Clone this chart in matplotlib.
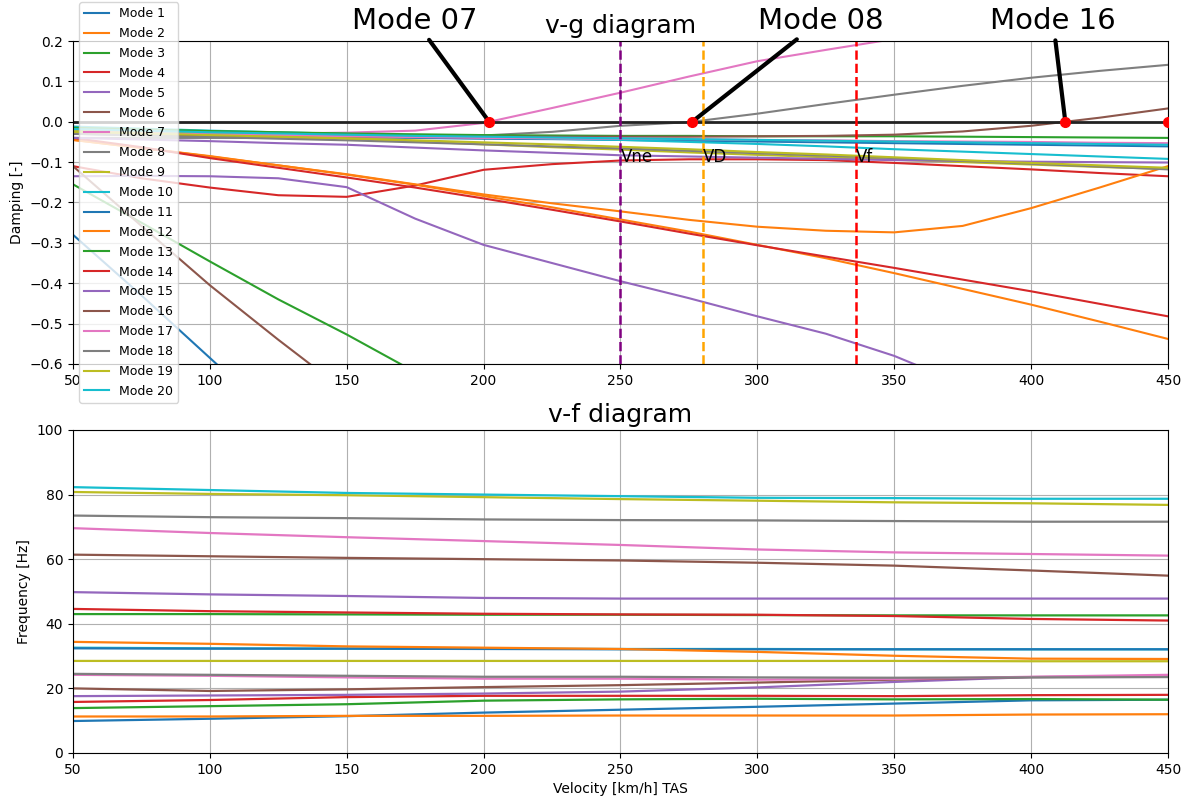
import numpy as np
import matplotlib
matplotlib.use('Agg')
import matplotlib.pyplot as plt

# velocity grids [km/h TAS]
v_damp = np.arange(50, 451, 25)
v_freq = np.arange(50, 451, 50)

# damping per mode, read at v_damp
g1 = [-0.030, -0.032, -0.034, -0.036, -0.038, -0.040, -0.042, -0.043, -0.045, -0.047, -0.049, -0.051, -0.053, -0.055, -0.057, -0.059, -0.061]
g2 = [-0.045, -0.065, -0.086, -0.108, -0.131, -0.156, -0.184, -0.212, -0.242, -0.272, -0.305, -0.338, -0.375, -0.414, -0.453, -0.495, -0.538]
g3 = [-0.155, -0.250, -0.346, -0.440, -0.527, -0.620, -0.710, -0.800, -0.890, -0.970, -1.050, -1.130, -1.200, -1.270, -1.340, -1.400, -1.460]
g4 = [-0.110, -0.140, -0.163, -0.182, -0.186, -0.158, -0.119, -0.105, -0.096, -0.093, -0.093, -0.095, -0.102, -0.110, -0.118, -0.127, -0.135]
g5 = [-0.135, -0.134, -0.135, -0.140, -0.162, -0.240, -0.305, -0.350, -0.395, -0.437, -0.482, -0.525, -0.580, -0.650, -0.720, -0.800, -0.880]
g6 = [-0.110, -0.258, -0.405, -0.540, -0.670, -0.800, -0.930, -1.050, -1.170, -1.280, -1.390, -1.500, -1.600, -1.700, -1.800, -1.900, -2.000]
g7 = [-0.030, -0.030, -0.030, -0.029, -0.027, -0.022, -0.003, 0.034, 0.072, 0.112, 0.150, 0.178, 0.205, 0.232, 0.258, 0.283, 0.307]
g8 = [-0.040, -0.040, -0.040, -0.040, -0.040, -0.038, -0.034, -0.025, -0.010, -0.001, 0.020, 0.044, 0.067, 0.089, 0.109, 0.126, 0.141]
g9 = [-0.020, -0.025, -0.030, -0.036, -0.042, -0.049, -0.056, -0.063, -0.069, -0.076, -0.082, -0.088, -0.094, -0.100, -0.106, -0.112, -0.117]
g10 = [-0.012, -0.017, -0.022, -0.026, -0.030, -0.034, -0.038, -0.042, -0.045, -0.050, -0.055, -0.061, -0.068, -0.074, -0.080, -0.086, -0.092]
g11 = [-0.280, -0.430, -0.585, -0.740, -0.890, -1.030, -1.170, -1.300, -1.430, -1.550, -1.670, -1.780, -1.890, -2.000, -2.100, -2.200, -2.300]
g12 = [-0.045, -0.065, -0.085, -0.108, -0.130, -0.155, -0.180, -0.202, -0.222, -0.243, -0.260, -0.270, -0.274, -0.258, -0.214, -0.163, -0.110]
g13 = [-0.015, -0.019, -0.023, -0.026, -0.029, -0.031, -0.033, -0.034, -0.035, -0.035, -0.036, -0.036, -0.036, -0.037, -0.038, -0.039, -0.040]
g14 = [-0.040, -0.063, -0.090, -0.114, -0.138, -0.163, -0.190, -0.218, -0.247, -0.277, -0.306, -0.334, -0.362, -0.391, -0.420, -0.451, -0.482]
g15 = [-0.040, -0.044, -0.048, -0.053, -0.057, -0.064, -0.071, -0.077, -0.083, -0.086, -0.089, -0.092, -0.095, -0.097, -0.099, -0.100, -0.101]
g16 = [-0.030, -0.032, -0.034, -0.035, -0.036, -0.037, -0.037, -0.037, -0.037, -0.037, -0.036, -0.035, -0.032, -0.024, -0.010, 0.010, 0.033]
g17 = [-0.025, -0.028, -0.031, -0.034, -0.036, -0.038, -0.040, -0.041, -0.042, -0.043, -0.045, -0.046, -0.048, -0.049, -0.050, -0.052, -0.053]
g18 = [-0.030, -0.034, -0.038, -0.042, -0.046, -0.051, -0.056, -0.061, -0.066, -0.072, -0.078, -0.084, -0.090, -0.097, -0.104, -0.111, -0.118]
g19 = [-0.025, -0.029, -0.033, -0.037, -0.041, -0.046, -0.051, -0.056, -0.062, -0.068, -0.075, -0.081, -0.088, -0.095, -0.102, -0.108, -0.114]
g20 = [-0.018, -0.022, -0.026, -0.029, -0.032, -0.035, -0.037, -0.039, -0.041, -0.043, -0.045, -0.047, -0.049, -0.051, -0.053, -0.055, -0.057]

# frequency per mode [Hz], read at v_freq
f1 = [9.9, 10.6, 11.4, 12.5, 13.4, 14.3, 15.3, 16.3, 16.5]
f2 = [11.3, 11.3, 11.5, 11.5, 11.6, 11.6, 11.6, 11.9, 12.0]
f3 = [13.9, 14.5, 15.1, 16.2, 16.6, 16.8, 16.6, 16.7, 16.5]
f4 = [15.8, 16.4, 17.3, 17.7, 17.7, 17.7, 17.6, 17.9, 18.0]
f5 = [17.6, 17.8, 18.0, 18.4, 19.0, 20.3, 22.0, 23.5, 23.8]
f6 = [20.0, 19.2, 19.7, 20.4, 21.0, 21.8, 22.7, 23.5, 23.6]
f7 = [24.2, 23.9, 23.4, 23.0, 23.0, 22.7, 22.9, 23.6, 24.2]
f8 = [24.5, 24.2, 23.9, 23.6, 23.6, 23.4, 23.3, 23.4, 23.5]
f9 = [28.5, 28.5, 28.5, 28.5, 28.5, 28.5, 28.5, 28.4, 28.4]
f10 = [32.6, 32.4, 32.3, 32.3, 32.2, 32.2, 32.1, 32.1, 32.1]
f11 = [32.4, 32.3, 32.3, 32.2, 32.1, 32.1, 32.1, 32.1, 32.1]
f12 = [34.4, 33.8, 33.0, 32.6, 32.2, 31.3, 30.1, 29.2, 29.1]
f13 = [43.0, 43.0, 42.9, 42.8, 42.8, 42.7, 42.6, 42.6, 42.6]
f14 = [44.6, 43.9, 43.5, 43.1, 42.9, 42.8, 42.4, 41.5, 41.0]
f15 = [49.8, 49.1, 48.6, 48.0, 47.8, 47.8, 47.8, 47.8, 47.8]
f16 = [61.4, 60.9, 60.4, 60.0, 59.6, 58.9, 58.0, 56.5, 54.9]
f17 = [69.6, 68.1, 66.8, 65.6, 64.4, 63.0, 62.1, 61.6, 61.1]
f18 = [73.5, 73.0, 72.7, 72.3, 72.1, 72.0, 71.8, 71.6, 71.6]
f19 = [80.8, 80.2, 79.8, 79.2, 78.6, 78.1, 77.6, 77.3, 76.8]
f20 = [82.3, 81.4, 80.5, 80.0, 79.5, 79.0, 78.9, 78.7, 78.7]

damping = [g1, g2, g3, g4, g5, g6, g7, g8, g9, g10, g11, g12, g13, g14, g15, g16, g17, g18, g19, g20]
freq = [f1, f2, f3, f4, f5, f6, f7, f8, f9, f10, f11, f12, f13, f14, f15, f16, f17, f18, f19, f20]

# reference speeds
v_lines = [250, 280, 336]
v_names = ['Vne', 'VD', 'Vf']
v_colors = ['purple', 'orange', 'red']

# where the annotation text sits (velocity) for each flutter mode
label_x = {7: 175, 8: 323, 16: 408}

fig = plt.figure(figsize=(11.83, 7.98), dpi=100)
ax1 = fig.add_axes([0.0617, 0.5439, 0.9256, 0.4047])
ax2 = fig.add_axes([0.0617, 0.0564, 0.9256, 0.4048])

for i, g in enumerate(damping):
    ax1.plot(v_damp, g, lw=1.5, label='Mode %d' % (i + 1))
ax1.axhline(0, color='#222222', lw=2)

# zero crossings -> flutter points
crossings = []
for i, g in enumerate(damping):
    g = np.array(g)
    idx = np.where((g[:-1] < 0) & (g[1:] >= 0))[0]
    for k in idx:
        vc = np.interp(0, [g[k], g[k + 1]], [v_damp[k], v_damp[k + 1]])
        crossings.append((i + 1, vc))
xs = [c[1] for c in crossings] + [v_damp[-1]]
ax1.plot(xs, np.zeros(len(xs)), 'o', color='red', ms=7, zorder=5)

for mode, vc in crossings:
    ax1.annotate('Mode %02d' % mode, xy=(vc, 0), xytext=(label_x[mode], 0.25),
                 fontsize=21, ha='center', va='center', annotation_clip=False,
                 arrowprops=dict(arrowstyle='-', lw=3, color='black', shrinkB=0))

for v, name, c in zip(v_lines, v_names, v_colors):
    ax1.axvline(v, color=c, ls='--', lw=1.8)
    ax1.text(v, -0.087, name, fontsize=12, va='center', ha='left')

ax1.set_xlim(50, 450)
ax1.set_ylim(-0.6, 0.2)
ax1.set_yticks(np.arange(-0.6, 0.21, 0.1))
ax1.grid(True)
ax1.set_ylabel('Damping [-]')
ax1.set_title('v-g diagram', fontsize=18)
ax1.legend(loc='center left', fontsize=9, labelspacing=0.55)

for i, f in enumerate(freq):
    ax2.plot(v_freq, f, lw=1.6)
ax2.set_xlim(50, 450)
ax2.set_ylim(0, 100)
ax2.grid(True)
ax2.set_ylabel('Frequency [Hz]')
ax2.set_xlabel('Velocity [km/h] TAS')
ax2.set_title('v-f diagram', fontsize=18)

fig.savefig('out.png', dpi=100)
